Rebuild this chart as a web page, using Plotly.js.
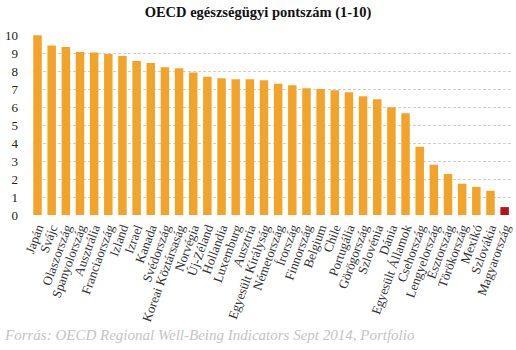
<!DOCTYPE html>
<html>
<head>
<meta charset="utf-8">
<script src="https://cdn.plot.ly/plotly-3.0.1.min.js"></script>
<style>html,body{margin:0;padding:0;background:#fff;}#chart{width:516px;height:350px;}</style>
</head>
<body>
<div id="chart"></div>
<script>
const countries = ["Japán","Svájc","Olaszország","Spanyolország","Ausztrália","Franciaország","Izland","Izrael","Kanada","Svédország","Koreai Köztársaság","Norvégia","Új-Zéland","Hollandia","Luxemburg","Ausztria","Egyesült Királyság","Németország","Írország","Finnország","Belgium","Chile","Portugália","Görögország","Szlovénia","Dánia","Egyesült Államok","Csehország","Lengyelország","Észtország","Törökország","Mexikó","Szlovákia","Magyarország"];
const scores = [10.0,9.44,9.35,9.07,9.04,8.96,8.85,8.57,8.46,8.22,8.17,7.93,7.69,7.61,7.56,7.56,7.50,7.30,7.22,7.06,7.02,6.94,6.83,6.61,6.44,6.00,5.67,3.80,2.80,2.28,1.74,1.57,1.35,0.44];
const highlighted = "Magyarország";
const yTicks = [0,1,2,3,4,5,6,7,8,9,10];

const colors = countries.map(c => c === highlighted ? "#B5141C" : "#F2A42A");

const trace = {
  type: "bar",
  x: countries,
  y: scores,
  marker: {color: colors, line: {width: 0}},
  hoverinfo: "x+y"
};

const layout = {
  width: 516, height: 350,
  margin: {l: 33, r: 4, t: 35, b: 135, pad: 0},
  paper_bgcolor: "#fff", plot_bgcolor: "#fff",
  bargap: 0.4,
  showlegend: false,
  title: {
    text: "<b>OECD egészségügyi pontszám (1-10)</b>",
    font: {family: "Liberation Serif, serif", size: 14.5, color: "#111"},
    x: 0.5, xanchor: "center", y: 0.965, yanchor: "middle"
  },
  xaxis: {
    type: "category",
    range: [-0.32, 33.52],
    tickmode: "array",
    tickvals: countries,
    ticktext: countries,
    tickangle: -70,
    tickfont: {family: "Liberation Serif, serif", size: 13, color: "#333"},
    showgrid: false, zeroline: false, showline: false,
    ticks: "", ticklabelstandoff: 2
  },
  yaxis: {
    range: [0, 10.02],
    tickvals: yTicks,
    ticktext: yTicks.map(String),
    tickfont: {family: "Liberation Serif, serif", size: 13, color: "#222"},
    showgrid: true, gridcolor: "#d0d0d0", griddash: "3px,2px", gridwidth: 1,
    zeroline: false, showline: false, ticks: "",
    ticklabelstandoff: 14
  },
  annotations: [{
    text: "<i>Forrás: OECD Regional Well-Being Indicators Sept 2014, Portfolio</i>",
    xref: "paper", yref: "paper", x: -0.064, xanchor: "left",
    y: -0.667, yanchor: "middle", showarrow: false,
    font: {family: "Liberation Serif, serif", size: 15, color: "#c4c4c4"}
  }]
};

Plotly.newPlot("chart", [trace], layout, {displayModeBar: false, staticPlot: true});
</script>
</body>
</html>
